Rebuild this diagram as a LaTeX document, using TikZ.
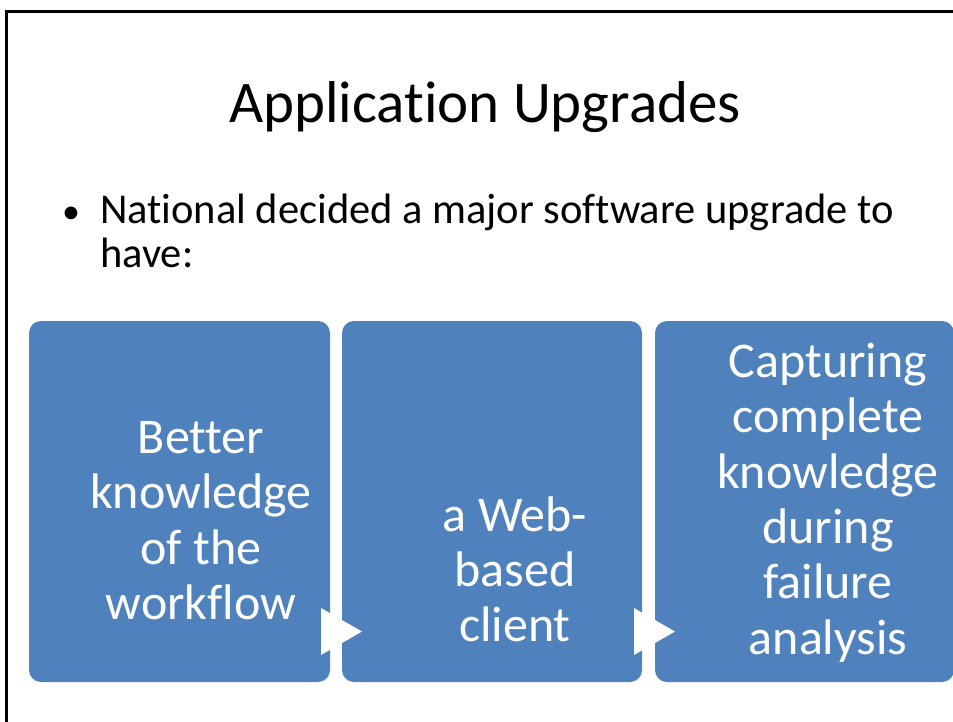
\documentclass[tikz,border=0pt]{standalone}
\usepackage{fontspec}
\setmainfont{Carlito}[Ligatures={NoCommon}]
\definecolor{stepblue}{HTML}{4F81BD}
\tikzset{
  stepbox/.style={fill=stepblue, draw=none, rounded corners=12pt},
  boxtext/.style={text=white, inner sep=0pt, anchor=base,
    font=\fontsize{50}{55}\selectfont},
  steparrow/.style={fill=white, draw=none},
  bodytext/.style={inner sep=0pt, anchor=base west,
    font=\fontsize{42.5}{46}\selectfont}
}
\begin{document}
\begin{tikzpicture}[x=1pt, y=-1pt]
  \useasboundingbox (0,0) rectangle (953,721);
  \begin{scope}
    \clip (0,0) rectangle (953,721);
    % slide frame
    \draw[line width=3pt] (6.5,725) -- (6.5,11.5) -- (960,11.5);

    % title
    \node[inner sep=0pt, anchor=base, font=\fontsize{59}{70}\selectfont]
      (title) at (485,122) {Application Upgrades};

    % bullet
    \node[bodytext, font=\fontsize{36}{44}\selectfont] (bul) at (62,223) {•};
    \node[bodytext] (line1) at (100,223) {National decided a major software upgrade to};
    \node[bodytext] (line2) at (100,267) {have:};

    % process boxes
    \path[stepbox] (29,321) rectangle (330,682);
    \node[inner sep=0pt] (b1) at (179.5,501.5) {};
    \path[stepbox] (342,321) rectangle (642,682);
    \node[inner sep=0pt] (b2) at (492,501.5) {};
    \path[stepbox] (655,321) rectangle (954,682);
    \node[inner sep=0pt] (b3) at (804.5,501.5) {};

    % arrows between boxes
    \fill[steparrow] (321,608) -- (362,631.5) -- (321,655) -- cycle;
    \fill[steparrow] (634,608) -- (675,631.5) -- (634,655) -- cycle;

    % box texts
    \node[boxtext] (t11) at (201,453) {Better};
    \node[boxtext] (t12) at (201,508.5) {knowledge};
    \node[boxtext] (t13) at (201,564) {of the};
    \node[boxtext] (t14) at (201,619) {workflow};

    \node[boxtext] (t21) at (515,531) {a Web-};
    \node[boxtext] (t22) at (515,586) {based};
    \node[boxtext] (t23) at (515,641) {client};

    \node[boxtext] (t31) at (828,377) {Capturing};
    \node[boxtext] (t32) at (828,432.5) {complete};
    \node[boxtext] (t33) at (828,488) {knowledge};
    \node[boxtext] (t34) at (828,543) {during};
    \node[boxtext] (t35) at (828,598.5) {failure};
    \node[boxtext] (t36) at (828,654) {analysis};
  \end{scope}
\end{tikzpicture}
\end{document}
